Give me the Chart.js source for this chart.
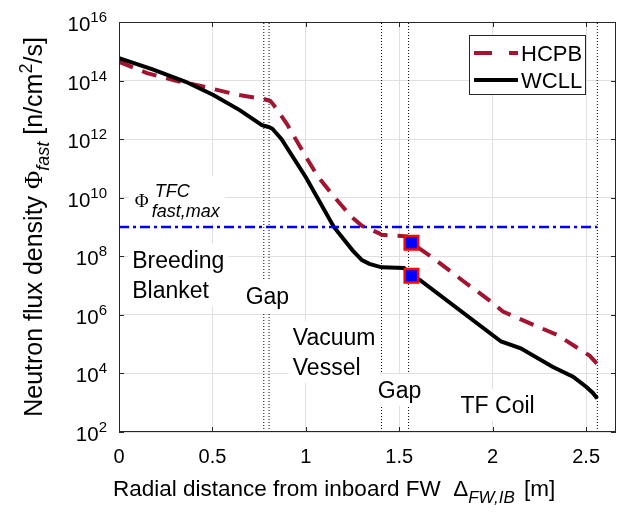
<!DOCTYPE html>
<html>
<head>
<meta charset="utf-8">
<script src="https://cdn.jsdelivr.net/npm/chart.js@4.4.1/dist/chart.umd.min.js"></script>
<style>
  html, body { margin: 0; padding: 0; background: #fff; }
  #wrap { width: 640px; height: 513px; }
</style>
</head>
<body>
<div id="wrap"><canvas id="chart" width="640" height="513"></canvas></div>
<script>
// fast neutron flux [n/cm2/s] vs radial distance from inboard FW [m]
const hcpbX = [0, 0.15, 0.30, 0.45, 0.63, 0.78, 0.81, 0.83, 0.90, 1.00, 1.065, 1.15, 1.245, 1.30, 1.39, 1.405, 1.54, 1.565, 1.69, 1.835, 1.98, 2.055, 2.20, 2.35, 2.485, 2.52, 2.56];
const hcpbY = [4.4e14, 1.8e14, 1.0e14, 6.3e13, 3.3e13, 2.3e13, 2.0e13, 1.4e13, 3.2e12, 2.5e11, 5.2e10, 1.1e10, 2.2e9, 1.1e9, 6.2e8, 5.4e8, 4.8e8, 2.9e8, 7.9e7, 1.55e7, 3.2e6, 1.3e6, 5.1e5, 2.0e5, 5.5e4, 4.0e4, 2.1e4];
const wcllX = [0, 0.18, 0.357, 0.505, 0.646, 0.765, 0.80, 0.82, 0.87, 1.00, 1.15, 1.25, 1.30, 1.34, 1.405, 1.525, 1.565, 1.61, 2.045, 2.15, 2.32, 2.43, 2.50, 2.535, 2.56];
const wcllY = [5.8e14, 2.4e14, 9.1e13, 3.2e13, 9.8e12, 3.0e12, 2.6e12, 2.3e12, 1.0e12, 5.0e10, 1.0e9, 1.6e8, 7.4e7, 5.5e7, 4.2e7, 4.0e7, 2.15e7, 1.55e7, 1.23e5, 7.2e4, 1.7e4, 7.8e3, 3.5e3, 2.2e3, 1.4e3];
const limitX = [0, 2.56];
const limitY = [1e9, 1e9];
const markX = [1.565, 1.565];
const markY = [2.9e8, 2.15e7];
const boundaries = [0.775, 0.803, 1.405, 1.55, 2.56];
const xTicks = [0, 0.5, 1, 1.5, 2, 2.5];
const xTickLabels = ['0', '0.5', '1', '1.5', '2', '2.5'];
const yTicks = [1e2, 1e4, 1e6, 1e8, 1e10, 1e12, 1e14, 1e16];
const yTickExps = ['2', '4', '6', '8', '10', '12', '14', '16'];

const notes = [
  { lines: ['Breeding', 'Blanket'], x: 0.071, y: 3.9e7 },
  { lines: ['Gap'], x: 0.678, y: 2.35e6 },
  { lines: ['Vacuum', 'Vessel'], x: 0.93, y: 9.4e4 },
  { lines: ['Gap'], x: 1.385, y: 1.45e3 },
  { lines: ['TF Coil'], x: 1.828, y: 4.5e2 }
];
const phiNote = { x: 0.084, y: 4.8e9 };

const SANS = '"Liberation Sans", Arial, sans-serif';
const SERIF = '"Liberation Serif", "DejaVu Serif", serif';
function font(size, style, fam) { return (style ? style + ' ' : '') + size + 'px ' + (fam || SANS); }

function runsWidth(ctx, runs) {
  let w = 0;
  runs.forEach(r => { ctx.font = r.font; w += ctx.measureText(r.text).width + (r.gap || 0); });
  return w;
}
function drawRuns(ctx, x, y, runs) {
  runs.forEach(r => {
    ctx.font = r.font;
    ctx.fillText(r.text, x, y + (r.dy || 0));
    x += ctx.measureText(r.text).width + (r.gap || 0);
  });
}

const pts = (xs, ys) => xs.map((x, i) => ({ x: x, y: ys[i] }));

const overlay = {
  id: 'overlay',
  afterDraw(chart) {
    const ctx = chart.ctx, a = chart.chartArea;
    const xs = chart.scales.x, ys = chart.scales.y;
    ctx.save();
    ctx.textAlign = 'left';
    ctx.textBaseline = 'alphabetic';

    // text labels with white boxes
    notes.forEach(n => {
      const x = xs.getPixelForValue(n.x), y = ys.getPixelForValue(n.y);
      ctx.font = font(23);
      const w = Math.max(...n.lines.map(t => ctx.measureText(t).width));
      const top = y - 24, bot = y + (n.lines.length - 1) * 30 + 8;
      ctx.fillStyle = '#fff';
      ctx.fillRect(x - 4, top, w + 8, bot - top);
      ctx.fillStyle = '#000';
      n.lines.forEach((t, i) => ctx.fillText(t, x, y + i * 30));
    });

    // Phi^TFC_fast,max
    {
      const x = xs.getPixelForValue(phiNote.x), y = ys.getPixelForValue(phiNote.y);
      ctx.font = font(18, 'italic');
      const w = 18 + ctx.measureText('fast,max').width;
      ctx.fillStyle = '#fff';
      ctx.fillRect(x - 6, y - 31, w + 10, 47);
      ctx.fillStyle = '#000';
      ctx.font = font(19, '', SERIF);
      ctx.fillText('\u03A6', x, y);
      ctx.font = font(18, 'italic');
      ctx.fillText('TFC', x + 20, y - 10);
      ctx.fillText('fast,max', x + 17, y + 10);
    }

    // frame and inward ticks
    ctx.strokeStyle = '#262626';
    ctx.lineWidth = 1;
    ctx.strokeRect(a.left + 0.5, a.top + 0.5, a.right - a.left - 1, a.bottom - a.top - 1);
    ctx.beginPath();
    xTicks.forEach(v => {
      const x = Math.round(xs.getPixelForValue(v)) + 0.5;
      ctx.moveTo(x, a.bottom); ctx.lineTo(x, a.bottom - 5);
      ctx.moveTo(x, a.top); ctx.lineTo(x, a.top + 5);
    });
    yTicks.forEach(v => {
      const y = Math.round(ys.getPixelForValue(v)) + 0.5;
      ctx.moveTo(a.left, y); ctx.lineTo(a.left + 5, y);
      ctx.moveTo(a.right, y); ctx.lineTo(a.right - 5, y);
    });
    ctx.stroke();

    // tick labels
    ctx.fillStyle = '#000';
    ctx.textAlign = 'center';
    ctx.font = font(20);
    xTicks.forEach((v, i) => ctx.fillText(xTickLabels[i], xs.getPixelForValue(v), a.bottom + 31));
    ctx.textAlign = 'left';
    yTicks.forEach((v, i) => {
      const y = ys.getPixelForValue(v);
      const runs = [{ text: '10', font: font(20.5) }, { text: yTickExps[i], font: font(15), dy: -9 }];
      const w = runsWidth(ctx, runs);
      drawRuns(ctx, a.left - 12 - w, y + 9, runs);
    });

    // x title
    const xt = [
      { text: 'Radial distance from inboard FW  ', font: font(22.5) },
      { text: '\u0394', font: font(22.5) },
      { text: 'FW,IB', font: font(17, 'italic'), dy: 7, gap: 3 },
      { text: ' [m]', font: font(22.5) }
    ];
    drawRuns(ctx, a.left - 6, a.bottom + 64, xt);

    // y title
    const yt = [
      { text: 'Neutron flux density ', font: font(25) },
      { text: '\u03A6', font: font(25, '', SERIF) },
      { text: 'fast', font: font(18, 'italic'), dy: 7 },
      { text: ' [n/cm', font: font(25) },
      { text: '2', font: font(18), dy: -10 },
      { text: '/s]', font: font(25) }
    ];
    const yw = runsWidth(ctx, yt);
    ctx.save();
    ctx.translate(42, (a.top + a.bottom) / 2);
    ctx.rotate(-Math.PI / 2);
    drawRuns(ctx, -yw / 2, 0, yt);
    ctx.restore();

    // legend
    const lx = a.right - 147, ly = a.top + 13, lw = 116, lh = 59;
    ctx.fillStyle = '#fff';
    ctx.fillRect(lx, ly, lw, lh);
    ctx.strokeStyle = '#262626';
    ctx.lineWidth = 1;
    ctx.strokeRect(lx + 0.5, ly + 0.5, lw, lh);
    const ds = chart.data.datasets;
    [0, 1].forEach(i => {
      const y = ly + 18 + i * 27;
      ctx.strokeStyle = ds[i].borderColor;
      ctx.lineWidth = 4;
      ctx.setLineDash(i === 0 ? [18, 17] : []);
      ctx.beginPath();
      ctx.moveTo(lx + 5, y); ctx.lineTo(lx + 49, y);
      ctx.stroke();
      ctx.setLineDash([]);
      ctx.fillStyle = '#000';
      ctx.font = font(22);
      ctx.fillText(ds[i].label, lx + 52, y + 8);
    });
    ctx.restore();
  }
};

const datasets = [
  { label: 'HCPB', data: pts(hcpbX, hcpbY), borderColor: '#A2142F', borderWidth: 4, borderDash: [15, 10], pointRadius: 0, order: 3 },
  { label: 'WCLL', data: pts(wcllX, wcllY), borderColor: '#000000', borderWidth: 4, pointRadius: 0, order: 2 },
  { label: 'limit', data: pts(limitX, limitY), borderColor: '#0000FF', borderWidth: 2.5, borderDash: [10, 4, 3, 4], pointRadius: 0, order: 1 },
  { label: 'marks', data: pts(markX, markY), showLine: false, pointStyle: 'rect', pointRadius: 9.5, borderWidth: 2.5, pointBorderColor: '#FF0000', pointBackgroundColor: '#0000FF', order: 0 }
];
boundaries.forEach(b => {
  datasets.push({ label: 'b', data: pts([b, b], [1e2, 1e16]), borderColor: '#000', borderWidth: 1, borderDash: [1, 2], pointRadius: 0, order: 5 });
});

new Chart(document.getElementById('chart'), {
  type: 'line',
  data: { datasets: datasets },
  options: {
    responsive: false,
    animation: false,
    devicePixelRatio: 1,
    layout: { padding: { left: 119, top: 22, right: 24, bottom: 81 } },
    plugins: { legend: { display: false }, tooltip: { enabled: false } },
    scales: {
      x: {
        type: 'linear', min: 0, max: 2.66,
        ticks: { display: false },
        grid: { color: '#e0e0e0', drawTicks: false },
        border: { display: false },
        afterBuildTicks: s => { s.ticks = xTicks.map(v => ({ value: v })); }
      },
      y: {
        type: 'logarithmic', min: 1e2, max: 1e16,
        ticks: { display: false },
        grid: { color: '#e0e0e0', drawTicks: false },
        border: { display: false },
        afterBuildTicks: s => { s.ticks = yTicks.map(v => ({ value: v })); }
      }
    }
  },
  plugins: [overlay]
});
</script>
</body>
</html>
